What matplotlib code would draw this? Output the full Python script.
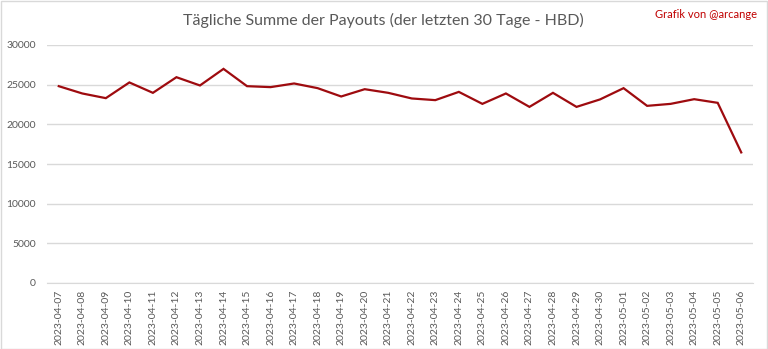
import matplotlib.pyplot as plt
from matplotlib.patches import Rectangle

plt.rcParams['font.family'] = ['Lato', 'DejaVu Sans']

# Daily payout sums (HBD)
dates = ['2023-04-07', '2023-04-08', '2023-04-09', '2023-04-10', '2023-04-11',
         '2023-04-12', '2023-04-13', '2023-04-14', '2023-04-15', '2023-04-16',
         '2023-04-17', '2023-04-18', '2023-04-19', '2023-04-20', '2023-04-21',
         '2023-04-22', '2023-04-23', '2023-04-24', '2023-04-25', '2023-04-26',
         '2023-04-27', '2023-04-28', '2023-04-29', '2023-04-30', '2023-05-01',
         '2023-05-02', '2023-05-03', '2023-05-04', '2023-05-05', '2023-05-06']
payouts = [24810, 23890, 23300, 25280, 23970, 25940, 24900, 26990, 24810, 24690,
           25150, 24560, 23510, 24430, 23970, 23260, 23050, 24090, 22580, 23890,
           22200, 23970, 22200, 23140, 24560, 22330, 22580, 23170, 22710, 16460]
y_ticks = [0, 5000, 10000, 15000, 20000, 25000, 30000]

W, H = 768, 349
fig = plt.figure(figsize=(W / 100, H / 100), dpi=100)

# light gray outer border
fig.patches.append(Rectangle((0.5 / W, 0.5 / H), 1 - 1.5 / W, 1 - 1.5 / H,
                             transform=fig.transFigure, fill=False,
                             edgecolor='#d9d9d9', linewidth=1))

left, right, top, bottom = 47, 753, 45, 283
ax = fig.add_axes([left / W, 1 - bottom / H, (right - left) / W, (bottom - top) / H])

x = list(range(len(dates)))
ax.plot(x, payouts, color='#9e0b0f', linewidth=1.6, solid_joinstyle='miter', zorder=3)

ax.set_xlim(-0.5, len(dates) - 0.5)
ax.set_ylim(0, 30000)
ax.set_yticks(y_ticks)
ax.set_yticklabels([str(v) for v in y_ticks])
ax.set_xticks(x)
ax.set_xticklabels(dates, rotation=90)

ax.grid(axis='y', color='#d9d9d9', linewidth=1)
ax.set_axisbelow(True)
for side in ['top', 'right', 'left']:
    ax.spines[side].set_visible(False)
ax.spines['bottom'].set_color('#d9d9d9')
ax.tick_params(axis='both', length=0, labelsize=7.5, colors='#595959')
ax.tick_params(axis='y', pad=8)
ax.tick_params(axis='x', pad=5)

fig.text(383 / W, 1 - 20 / H, 'Tägliche Summe der Payouts (der letzten 30 Tage - HBD)',
         ha='center', va='center', fontsize=11.5, color='#595959')
fig.text(757 / W, 1 - 15 / H, 'Grafik von @arcange', ha='right', va='center',
         fontsize=8, color='#c00000')

fig.savefig('out.png', dpi=100)
